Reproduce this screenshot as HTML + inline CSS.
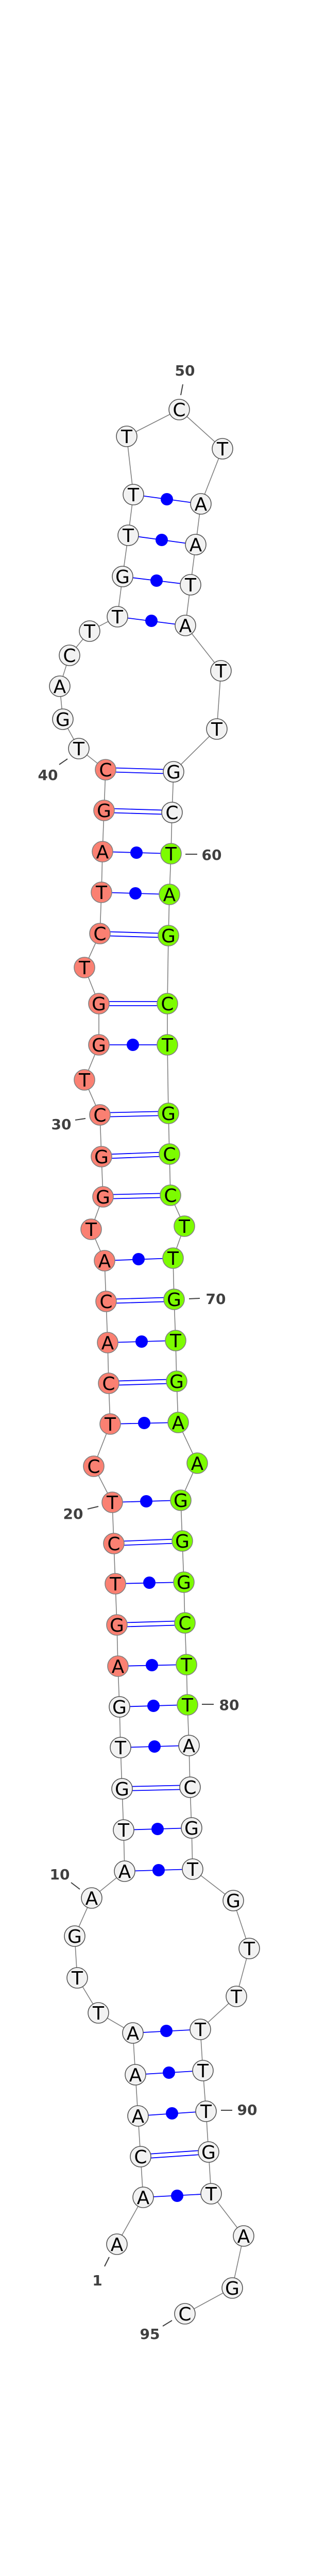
<!DOCTYPE html>
<html><head><meta charset="utf-8"><style>
html,body{margin:0;padding:0;background:#fff;width:600px;height:5304px;overflow:hidden;}
svg{display:block;position:absolute;left:0;top:0;}
.n{stroke-width:1.6;}
.w{fill:#f2f2f2;stroke:#555;}
.r{fill:#fa8072;stroke:#808080;}
.g{fill:#7cfc00;stroke:#808080;}
.t text{font-family:"DejaVu Sans","Liberation Sans",sans-serif;font-size:36px;text-anchor:middle;fill:#000;}
.lb{font-family:"DejaVu Sans","Liberation Sans",sans-serif;font-size:28px;font-weight:bold;fill:#404040;text-anchor:middle;}
.p{stroke:#0000ff;stroke-width:1.8;}
</style></head><body>
<svg width="600" height="5304" viewBox="0 0 600 5304" xmlns="http://www.w3.org/2000/svg">
<polyline fill="none" stroke="#808080" stroke-width="1.6" points="227,4356 278,4265 273,4186 268,4107 263,4027 258,3946 191,3907 150,3839 145,3758 178,3684 242,3632 240,3552 237,3472 234,3392 232,3313 229,3234 227,3154 224,3074 221,2996 218,2916 182,2846 214,2764 211,2685 209,2606 206,2526 203,2447 177,2386 200,2323 197,2245 194,2164 164,2096 192,2028 192,1948 164,1878 194,1812 197,1732 199,1653 202,1573 205,1494 153,1453 122,1396 116,1332 135,1272 174,1225 228,1197 238,1119 249,1039 259,960 246,847 348,795 432,871 390,978 380,1057 370,1135 360,1214 429,1302 421,1415 337,1498 334,1577 332,1657 329,1736 327,1816 325,1948 325,2028 327,2161 329,2240 331,2320 358,2380 336,2442 338,2522 341,2602 343,2681 346,2761 383,2840 351,2912 354,2991 357,3071 359,3150 362,3231 364,3309 367,3388 369,3469 372,3548 374,3628 453,3689 484,3782 459,3875 389,3939 394,4019 400,4098 405,4177 410,4258 473,4340 451,4441 359,4491"/>
<g class="p">
<line x1="278" y1="4265" x2="410" y2="4258"/>
<line x1="268" y1="4107" x2="400" y2="4098"/>
<line x1="263" y1="4027" x2="394" y2="4019"/>
<line x1="258" y1="3946" x2="389" y2="3939"/>
<line x1="242" y1="3632" x2="374" y2="3628"/>
<line x1="240" y1="3552" x2="372" y2="3548"/>
<line x1="234" y1="3392" x2="367" y2="3388"/>
<line x1="232" y1="3313" x2="364" y2="3309"/>
<line x1="229" y1="3234" x2="362" y2="3231"/>
<line x1="224" y1="3074" x2="357" y2="3071"/>
<line x1="218" y1="2916" x2="351" y2="2912"/>
<line x1="214" y1="2764" x2="346" y2="2761"/>
<line x1="209" y1="2606" x2="341" y2="2602"/>
<line x1="203" y1="2447" x2="336" y2="2442"/>
<line x1="192" y1="2028" x2="325" y2="2028"/>
<line x1="197" y1="1732" x2="329" y2="1736"/>
<line x1="199" y1="1653" x2="332" y2="1657"/>
<line x1="228" y1="1197" x2="360" y2="1214"/>
<line x1="238" y1="1119" x2="370" y2="1135"/>
<line x1="249" y1="1039" x2="380" y2="1057"/>
<line x1="259" y1="960" x2="390" y2="978"/>
<line x1="273" y1="4182" x2="405" y2="4173"/><line x1="273" y1="4190" x2="405" y2="4181"/>
<line x1="237" y1="3468" x2="369" y2="3465"/><line x1="237" y1="3476" x2="369" y2="3473"/>
<line x1="227" y1="3150" x2="359" y2="3146"/><line x1="227" y1="3158" x2="359" y2="3154"/>
<line x1="221" y1="2992" x2="354" y2="2987"/><line x1="221" y1="3000" x2="354" y2="2995"/>
<line x1="211" y1="2681" x2="343" y2="2677"/><line x1="211" y1="2689" x2="343" y2="2685"/>
<line x1="206" y1="2522" x2="338" y2="2518"/><line x1="206" y1="2530" x2="338" y2="2526"/>
<line x1="200" y1="2319" x2="331" y2="2316"/><line x1="200" y1="2327" x2="331" y2="2324"/>
<line x1="197" y1="2241" x2="329" y2="2236"/><line x1="197" y1="2249" x2="329" y2="2244"/>
<line x1="194" y1="2160" x2="327" y2="2157"/><line x1="194" y1="2168" x2="327" y2="2165"/>
<line x1="192" y1="1944" x2="325" y2="1944"/><line x1="192" y1="1952" x2="325" y2="1952"/>
<line x1="194" y1="1808" x2="327" y2="1812"/><line x1="194" y1="1816" x2="327" y2="1820"/>
<line x1="202" y1="1569" x2="334" y2="1573"/><line x1="202" y1="1577" x2="334" y2="1581"/>
<line x1="205" y1="1490" x2="337" y2="1494"/><line x1="205" y1="1498" x2="337" y2="1502"/>
</g>
<g fill="#0000ff">
<circle cx="344" cy="4262" r="12"/><circle cx="334" cy="4102" r="12"/><circle cx="328" cy="4023" r="12"/><circle cx="323" cy="3942" r="12"/>
<circle cx="308" cy="3630" r="12"/><circle cx="306" cy="3550" r="12"/><circle cx="300" cy="3390" r="12"/><circle cx="298" cy="3311" r="12"/>
<circle cx="295" cy="3232" r="12"/><circle cx="290" cy="3072" r="12"/><circle cx="284" cy="2914" r="12"/><circle cx="280" cy="2762" r="12"/>
<circle cx="275" cy="2604" r="12"/><circle cx="269" cy="2444" r="12"/><circle cx="258" cy="2028" r="12"/><circle cx="263" cy="1734" r="12"/>
<circle cx="265" cy="1655" r="12"/><circle cx="294" cy="1205" r="12"/><circle cx="304" cy="1127" r="12"/><circle cx="314" cy="1048" r="12"/>
<circle cx="324" cy="969" r="12"/>
</g>
<g stroke="#404040" stroke-width="2">
<line x1="355" y1="746" x2="351" y2="767"/>
<line x1="131" y1="1473" x2="115" y2="1484"/>
<line x1="360" y1="1658" x2="383" y2="1658"/>
<line x1="166" y1="2171" x2="146" y2="2174"/>
<line x1="367" y1="2521" x2="388" y2="2520"/>
<line x1="191" y1="2924" x2="170" y2="2929"/>
<line x1="392" y1="3308" x2="415" y2="3308"/>
<line x1="155" y1="3667" x2="138" y2="3654"/>
<line x1="429" y1="4096" x2="451" y2="4096"/>
<line x1="212" y1="4381" x2="203" y2="4399"/>
<line x1="334" y1="4504" x2="316" y2="4515"/>
</g>
<g class="lb">
<text x="359" y="729">50</text>
<text x="93" y="1514">40</text>
<text x="411" y="1669">60</text>
<text x="119" y="2192">30</text>
<text x="419" y="2531">70</text>
<text x="142" y="2948">20</text>
<text x="445" y="3319">80</text>
<text x="116" y="3648">10</text>
<text x="480" y="4105">90</text>
<text x="189" y="4436">1</text>
<text x="291" y="4540">95</text>
</g>
<g class="n">
<circle class="w" cx="227" cy="4356" r="20"/><circle class="w" cx="278" cy="4265" r="20"/><circle class="w" cx="273" cy="4186" r="20"/><circle class="w" cx="268" cy="4107" r="20"/><circle class="w" cx="263" cy="4027" r="20"/><circle class="w" cx="258" cy="3946" r="20"/><circle class="w" cx="191" cy="3907" r="20"/><circle class="w" cx="150" cy="3839" r="20"/><circle class="w" cx="145" cy="3758" r="20"/><circle class="w" cx="178" cy="3684" r="20"/><circle class="w" cx="242" cy="3632" r="20"/><circle class="w" cx="240" cy="3552" r="20"/><circle class="w" cx="237" cy="3472" r="20"/><circle class="w" cx="234" cy="3392" r="20"/><circle class="w" cx="232" cy="3313" r="20"/>
<circle class="r" cx="229" cy="3234" r="20"/><circle class="r" cx="227" cy="3154" r="20"/><circle class="r" cx="224" cy="3074" r="20"/><circle class="r" cx="221" cy="2996" r="20"/><circle class="r" cx="218" cy="2916" r="20"/><circle class="r" cx="182" cy="2846" r="20"/><circle class="r" cx="214" cy="2764" r="20"/><circle class="r" cx="211" cy="2685" r="20"/><circle class="r" cx="209" cy="2606" r="20"/><circle class="r" cx="206" cy="2526" r="20"/><circle class="r" cx="203" cy="2447" r="20"/><circle class="r" cx="177" cy="2386" r="20"/><circle class="r" cx="200" cy="2323" r="20"/><circle class="r" cx="197" cy="2245" r="20"/><circle class="r" cx="194" cy="2164" r="20"/><circle class="r" cx="164" cy="2096" r="20"/><circle class="r" cx="192" cy="2028" r="20"/><circle class="r" cx="192" cy="1948" r="20"/><circle class="r" cx="164" cy="1878" r="20"/><circle class="r" cx="194" cy="1812" r="20"/><circle class="r" cx="197" cy="1732" r="20"/><circle class="r" cx="199" cy="1653" r="20"/><circle class="r" cx="202" cy="1573" r="20"/><circle class="r" cx="205" cy="1494" r="20"/>
<circle class="w" cx="153" cy="1453" r="20"/><circle class="w" cx="122" cy="1396" r="20"/><circle class="w" cx="116" cy="1332" r="20"/><circle class="w" cx="135" cy="1272" r="20"/><circle class="w" cx="174" cy="1225" r="20"/><circle class="w" cx="228" cy="1197" r="20"/><circle class="w" cx="238" cy="1119" r="20"/><circle class="w" cx="249" cy="1039" r="20"/><circle class="w" cx="259" cy="960" r="20"/><circle class="w" cx="246" cy="847" r="20"/><circle class="w" cx="348" cy="795" r="20"/><circle class="w" cx="432" cy="871" r="20"/><circle class="w" cx="390" cy="978" r="20"/><circle class="w" cx="380" cy="1057" r="20"/><circle class="w" cx="370" cy="1135" r="20"/><circle class="w" cx="360" cy="1214" r="20"/><circle class="w" cx="429" cy="1302" r="20"/><circle class="w" cx="421" cy="1415" r="20"/><circle class="w" cx="337" cy="1498" r="20"/><circle class="w" cx="334" cy="1577" r="20"/>
<circle class="g" cx="332" cy="1657" r="20"/><circle class="g" cx="329" cy="1736" r="20"/><circle class="g" cx="327" cy="1816" r="20"/><circle class="g" cx="325" cy="1948" r="20"/><circle class="g" cx="325" cy="2028" r="20"/><circle class="g" cx="327" cy="2161" r="20"/><circle class="g" cx="329" cy="2240" r="20"/><circle class="g" cx="331" cy="2320" r="20"/><circle class="g" cx="358" cy="2380" r="20"/><circle class="g" cx="336" cy="2442" r="20"/><circle class="g" cx="338" cy="2522" r="20"/><circle class="g" cx="341" cy="2602" r="20"/><circle class="g" cx="343" cy="2681" r="20"/><circle class="g" cx="346" cy="2761" r="20"/><circle class="g" cx="383" cy="2840" r="20"/><circle class="g" cx="351" cy="2912" r="20"/><circle class="g" cx="354" cy="2991" r="20"/><circle class="g" cx="357" cy="3071" r="20"/><circle class="g" cx="359" cy="3150" r="20"/><circle class="g" cx="362" cy="3231" r="20"/><circle class="g" cx="364" cy="3309" r="20"/>
<circle class="w" cx="367" cy="3388" r="20"/><circle class="w" cx="369" cy="3469" r="20"/><circle class="w" cx="372" cy="3548" r="20"/><circle class="w" cx="374" cy="3628" r="20"/><circle class="w" cx="453" cy="3689" r="20"/><circle class="w" cx="484" cy="3782" r="20"/><circle class="w" cx="459" cy="3875" r="20"/><circle class="w" cx="389" cy="3939" r="20"/><circle class="w" cx="394" cy="4019" r="20"/><circle class="w" cx="400" cy="4098" r="20"/><circle class="w" cx="405" cy="4177" r="20"/><circle class="w" cx="410" cy="4258" r="20"/><circle class="w" cx="473" cy="4340" r="20"/><circle class="w" cx="451" cy="4441" r="20"/><circle class="w" cx="359" cy="4491" r="20"/>
</g>
<g class="t">
<text x="227" y="4369">A</text><text x="278" y="4278">A</text><text x="273" y="4199">C</text><text x="268" y="4120">A</text><text x="263" y="4040">A</text><text x="258" y="3959">A</text><text x="191" y="3920">T</text><text x="150" y="3852">T</text><text x="145" y="3771">G</text><text x="178" y="3697">A</text><text x="242" y="3645">A</text><text x="240" y="3565">T</text><text x="237" y="3485">G</text><text x="234" y="3405">T</text><text x="232" y="3326">G</text>
<text x="229" y="3247">A</text><text x="227" y="3167">G</text><text x="224" y="3087">T</text><text x="221" y="3009">C</text><text x="218" y="2929">T</text><text x="182" y="2859">C</text><text x="214" y="2777">T</text><text x="211" y="2698">C</text><text x="209" y="2619">A</text><text x="206" y="2539">C</text><text x="203" y="2460">A</text><text x="177" y="2399">T</text><text x="200" y="2336">G</text><text x="197" y="2258">G</text><text x="194" y="2177">C</text><text x="164" y="2109">T</text><text x="192" y="2041">G</text><text x="192" y="1961">G</text><text x="164" y="1891">T</text><text x="194" y="1825">C</text><text x="197" y="1745">T</text><text x="199" y="1666">A</text><text x="202" y="1586">G</text><text x="205" y="1507">C</text>
<text x="153" y="1466">T</text><text x="122" y="1409">G</text><text x="116" y="1345">A</text><text x="135" y="1285">C</text><text x="174" y="1238">T</text><text x="228" y="1210">T</text><text x="238" y="1132">G</text><text x="249" y="1052">T</text><text x="259" y="973">T</text><text x="246" y="860">T</text><text x="348" y="808">C</text><text x="432" y="884">T</text><text x="390" y="991">A</text><text x="380" y="1070">A</text><text x="370" y="1148">T</text><text x="360" y="1227">A</text><text x="429" y="1315">T</text><text x="421" y="1428">T</text><text x="337" y="1511">G</text><text x="334" y="1590">C</text>
<text x="332" y="1670">T</text><text x="329" y="1749">A</text><text x="327" y="1829">G</text><text x="325" y="1961">C</text><text x="325" y="2041">T</text><text x="327" y="2174">G</text><text x="329" y="2253">C</text><text x="331" y="2333">C</text><text x="358" y="2393">T</text><text x="336" y="2455">T</text><text x="338" y="2535">G</text><text x="341" y="2615">T</text><text x="343" y="2694">G</text><text x="346" y="2774">A</text><text x="383" y="2853">A</text><text x="351" y="2925">G</text><text x="354" y="3004">G</text><text x="357" y="3084">G</text><text x="359" y="3163">C</text><text x="362" y="3244">T</text><text x="364" y="3322">T</text>
<text x="367" y="3401">A</text><text x="369" y="3482">C</text><text x="372" y="3561">G</text><text x="374" y="3641">T</text><text x="453" y="3702">G</text><text x="484" y="3795">T</text><text x="459" y="3888">T</text><text x="389" y="3952">T</text><text x="394" y="4032">T</text><text x="400" y="4111">T</text><text x="405" y="4190">G</text><text x="410" y="4271">T</text><text x="473" y="4353">A</text><text x="451" y="4454">G</text><text x="359" y="4504">C</text>
</g>
<text x="300" y="5296" font-family="DejaVu Sans, Liberation Sans, sans-serif" font-size="10" font-weight="bold" text-anchor="middle" fill="#000">dps-mir-980_annot [-34.4]</text>
</svg>
</body></html>
